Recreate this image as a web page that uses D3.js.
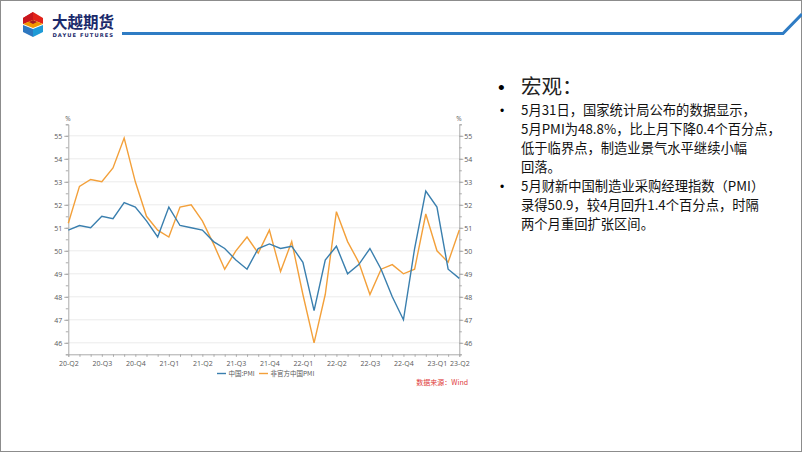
<!DOCTYPE html>
<html><head><meta charset="utf-8">
<script src="https://cdn.jsdelivr.net/npm/d3@7"></script>
<style>
html,body{margin:0;padding:0;background:#fff;}
svg{display:block;}
</style></head>
<body>
<svg id="c" width="802" height="452"></svg>
<script>
// ---- data ----
const categories = ["2020-06","2020-07","2020-08","2020-09","2020-10","2020-11","2020-12",
  "2021-01","2021-02","2021-03","2021-04","2021-05","2021-06","2021-07","2021-08","2021-09","2021-10","2021-11","2021-12",
  "2022-01","2022-02","2022-03","2022-04","2022-05","2022-06","2022-07","2022-08","2022-09","2022-10","2022-11","2022-12",
  "2023-01","2023-02","2023-03","2023-04","2023-05"];
const officialPMI = [50.9,51.1,51.0,51.5,51.4,52.1,51.9,
  51.3,50.6,51.9,51.1,51.0,50.9,50.4,50.1,49.6,49.2,50.1,50.3,
  50.1,50.2,49.5,47.4,49.6,50.2,49.0,49.4,50.1,49.2,48.0,47.0,
  50.1,52.6,51.9,49.2,48.8];
const caixinPMI = [51.2,52.8,53.1,53.0,53.6,54.9,53.0,
  51.5,50.9,50.6,51.9,52.0,51.3,50.3,49.2,50.0,50.6,49.9,50.9,
  49.1,50.4,48.1,46.0,48.1,51.7,50.4,49.5,48.1,49.2,49.4,49.0,
  49.2,51.6,50.0,49.5,50.9];
const seriesNames = ["中国:PMI","非官方中国PMI"];
const quarterTickCats = ["2020-06","2020-09","2020-12","2021-03","2021-06","2021-09","2021-12","2022-03","2022-06","2022-09","2022-12","2023-03","2023-05"];
const quarterTickLabels = ["20-Q2","20-Q3","20-Q4","21-Q1","21-Q2","21-Q3","21-Q4","22-Q1","22-Q2","22-Q3","22-Q4","23-Q1","23-Q2"];
const yTicks = [46,47,48,49,50,51,52,53,54,55];
const bullets = [
  ["5月31日，国家统计局公布的数据显示，","5月PMI为48.8%，比上月下降0.4个百分点，","低于临界点，制造业景气水平继续小幅","回落。"],
  ["5月财新中国制造业采购经理指数（PMI）","录得50.9，较4月回升1.4个百分点，时隔","两个月重回扩张区间。"]
];

const svg = d3.select("#c");
const CJK = "'Noto Sans CJK SC','Noto Sans',sans-serif";

// slide frame
svg.append("rect").attr("x",0.5).attr("y",0.5).attr("width",801).attr("height",451)
  .attr("fill","#fff").attr("stroke","#8c8c8c").attr("stroke-width",1);

// header logo
const logo = svg.append("g");
logo.append("polygon").attr("points","33,12 43,18 43,24 33,20 23,24 23,18").attr("fill","#e2231a");
logo.append("polygon").attr("points","23,18 33,12 33,20 23,24").attr("fill","#c8161d");
logo.append("polygon").attr("points","33,20 43,24 33,28 23,24").attr("fill","#f39800");
logo.append("polygon").attr("points","23,25 33,29 33,37 23,32").attr("fill","#2e78c0");
logo.append("polygon").attr("points","43,25 33,29 33,37 43,32").attr("fill","#1e9bd7");
logo.append("polygon").attr("points","29,22 33,20 37,22 33,24").attr("fill","#a31d22");
svg.append("text").attr("x",52).attr("y",28).attr("font-family",CJK).attr("font-weight","bold")
  .attr("font-size",15.5).attr("fill","#1b2a6b").text("大越期货");
svg.append("text").attr("x",52.5).attr("y",36.5).attr("font-family","'DejaVu Sans',sans-serif").attr("font-weight","bold")
  .attr("font-size",5.2).attr("letter-spacing",1.05).attr("fill","#1b2a6b").text("DAYUE FUTURES");
svg.append("path").attr("d","M122,33.5 L783,33.5 L802,14").attr("fill","none")
  .attr("stroke","#2f7cc4").attr("stroke-width",3);

// ---- chart ----
const x = d3.scalePoint().domain(categories).range([68.3,459.3]);
const y = d3.scaleLinear().domain([45.5,55.5]).range([354.3,124.3]);
const axisColor = "#aaaaaa", labelColor = "#595959";

// gridlines
svg.append("g").selectAll("line").data(yTicks).join("line")
  .attr("x1",68.3).attr("x2",459.3).attr("y1",d=>y(d)).attr("y2",d=>y(d))
  .attr("stroke","#ececec").attr("stroke-width",1);

// left axis
const minor = d3.range(45.5,55.51,0.5);
const gl = svg.append("g").attr("transform","translate(68.3,0)");
gl.call(d3.axisLeft(y).tickValues(minor).tickSize(2.5).tickFormat(""));
gl.call(g=>g.selectAll(".tick line").attr("stroke",axisColor));
gl.call(g=>g.select(".domain").attr("stroke",axisColor));
const glm = svg.append("g").attr("transform","translate(68.3,0)")
  .call(d3.axisLeft(y).tickValues(yTicks).tickSize(4).tickPadding(2).tickFormat(d3.format("d")));
glm.select(".domain").remove();
glm.selectAll(".tick line").attr("stroke",axisColor);
glm.selectAll(".tick text").attr("fill",labelColor).attr("font-size",7).attr("font-family","'Open Sans',sans-serif");

// right axis
const gr = svg.append("g").attr("transform","translate(459.3,0)");
gr.call(d3.axisRight(y).tickValues(minor).tickSize(2.5).tickFormat(""));
gr.call(g=>g.selectAll(".tick line").attr("stroke",axisColor));
gr.call(g=>g.select(".domain").attr("stroke",axisColor));
const grm = svg.append("g").attr("transform","translate(459.3,0)")
  .call(d3.axisRight(y).tickValues(yTicks).tickSize(4).tickPadding(1).tickFormat(d3.format("d")));
grm.select(".domain").remove();
grm.selectAll(".tick line").attr("stroke",axisColor);
grm.selectAll(".tick text").attr("fill",labelColor).attr("font-size",7).attr("font-family","'Open Sans',sans-serif");

// % units
svg.append("text").attr("x",68).attr("y",121).attr("text-anchor","middle").attr("font-size",6.5)
  .attr("fill",labelColor).attr("font-family","'Open Sans',sans-serif").text("%");
svg.append("text").attr("x",459).attr("y",121).attr("text-anchor","middle").attr("font-size",6.5)
  .attr("fill",labelColor).attr("font-family","'Open Sans',sans-serif").text("%");

// bottom axis
const gb = svg.append("g").attr("transform","translate(0,354.3)");
gb.call(d3.axisBottom(x).tickValues(categories).tickSize(2.5).tickFormat(""));
gb.select(".domain").attr("stroke",axisColor);
gb.selectAll(".tick line").attr("stroke",axisColor);
const gbl = svg.append("g").attr("transform","translate(0,354.3)")
  .call(d3.axisBottom(x).tickValues(quarterTickCats).tickSize(0).tickPadding(7)
    .tickFormat((d,i)=>quarterTickLabels[i]));
gbl.select(".domain").remove();
gbl.selectAll(".tick text").attr("fill",labelColor).attr("font-size",7).attr("font-family","'Open Sans',sans-serif");

// lines
const line = vals => d3.line().x((d,i)=>x(categories[i])).y(d=>y(d))(vals);
const colors = ["#3a7fae","#f3a03a"];
svg.append("path").attr("d",line(caixinPMI)).attr("fill","none").attr("stroke",colors[1]).attr("stroke-width",1.4);
svg.append("path").attr("d",line(officialPMI)).attr("fill","none").attr("stroke",colors[0]).attr("stroke-width",1.4);

// legend
const legX = [217,259];
seriesNames.forEach((n,i)=>{
  svg.append("line").attr("x1",legX[i]).attr("x2",legX[i]+9).attr("y1",373.5).attr("y2",373.5)
    .attr("stroke",colors[i]).attr("stroke-width",1.4);
  svg.append("text").attr("x",legX[i]+11.5).attr("y",376).attr("font-size",6.5).attr("fill",labelColor)
    .attr("font-family",CJK).text(n);
});
svg.append("text").attr("x",468).attr("y",384.5).attr("text-anchor","end").attr("font-size",7)
  .attr("fill","#e03a3a").attr("font-family",CJK).text("数据来源：Wind");

// ---- text block ----
svg.append("text").attr("x",498).attr("y",94).attr("font-size",19).attr("font-family","'Liberation Sans',sans-serif").text("•");
svg.append("text").attr("x",521).attr("y",94).attr("font-size",20.5).attr("font-family",CJK).attr("fill","#222").text("宏观：");
let yy = 115;
bullets.forEach(b=>{
  svg.append("text").attr("x",500).attr("y",yy).attr("font-size",12).attr("font-family","'Liberation Sans',sans-serif").text("•");
  b.forEach(l=>{
    svg.append("text").attr("x",521).attr("y",yy).attr("font-size",13.3).attr("font-family",CJK).attr("fill","#111").text(l);
    yy += 19;
  });
});
</script>
</body></html>
